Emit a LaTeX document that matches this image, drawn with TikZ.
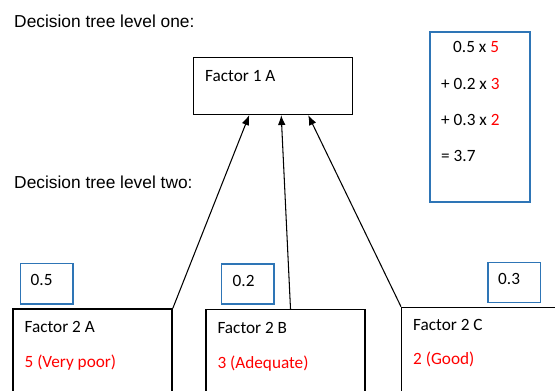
\documentclass[tikz,border=0pt]{standalone}
\usepackage{fontspec}
\setmainfont{Carlito}
\newfontfamily\headfont{Liberation Sans}
\usetikzlibrary{arrows.meta,calc}
\definecolor{boxblue}{RGB}{46,117,182}
\definecolor{valred}{RGB}{255,0,0}
\tikzset{
	box/.style={draw,line width=1.2pt,anchor=north west,minimum width=4.77cm,inner sep=0pt},
	wbox/.style={draw=boxblue,line width=1.5pt,anchor=north west,inner sep=0pt},
	hdr/.style={font=\headfont\fontsize{14.8}{17}\selectfont,anchor=base west,inner sep=0pt},
	txt/.style={font=\fontsize{14.7}{17}\selectfont,anchor=base west,inner sep=0pt},
	val/.style={txt,text=valred},
	arr/.style={line width=0.9pt,-{Latex[length=3mm,width=2.3mm]}}
}
\begin{document}
\begin{tikzpicture}[x=0.03cm,y=-0.03cm]
	\useasboundingbox (0,0) rectangle (555,391);
	\clip (0,0) rectangle (555,391);
	\node[hdr] (lvl1) at (14,28) {Decision tree level one:};
	\node[hdr] (lvl2) at (14,188) {Decision tree level two:};
	\node[box,minimum height=1.7cm] (f1a) at (193,57) {};
	\node[txt] (f1a-name) at ($(f1a.north west)+(12,24)$) {Factor 1 A};
	\node[wbox,minimum width=3cm,minimum height=5.1cm] (sum) at (429,31) {};
	\node[txt] (sum-a) at ($(sum.north west)+(24,22)$) {0.5 x \textcolor{valred}{5}};
	\node[txt] (sum-b) at ($(sum.north west)+(12,58)$) {+ 0.2 x \textcolor{valred}{3}};
	\node[txt] (sum-c) at ($(sum.north west)+(12,94)$) {+ 0.3 x \textcolor{valred}{2}};
	\node[txt] (sum-d) at ($(sum.north west)+(12,130)$) {= 3.7};
	\node[wbox,minimum width=1.58cm,minimum height=1.21cm] (w2a) at (19.5,262.7) {};
	\node[wbox,minimum width=1.58cm,minimum height=1.2cm] (w2b) at (220.5,263.3) {};
	\node[wbox,minimum width=1.58cm,minimum height=1.2cm] (w2c) at (487,261.7) {};
	\node[txt] (w2a-val) at ($(w2a.north west)+(11,23)$) {0.5};
	\node[txt] (w2b-val) at ($(w2b.north west)+(12,23)$) {0.2};
	\node[txt] (w2c-val) at ($(w2c.north west)+(11,23)$) {0.3};
	\node[box,minimum height=3cm] (f2a) at (12.4,308.3) {};
	\node[box,minimum height=3cm] (f2b) at (205.3,309) {};
	\node[box,minimum height=3cm] (f2c) at (401,306.7) {};
	\node[txt] (f2a-name) at ($(f2a.north west)+(12,24)$) {Factor 2 A};
	\node[val] (f2a-val) at ($(f2a.north west)+(12,59)$) {5 (Very poor)};
	\node[txt] (f2b-name) at ($(f2b.north west)+(12,24)$) {Factor 2 B};
	\node[val] (f2b-val) at ($(f2b.north west)+(12,59)$) {3 (Adequate)};
	\node[txt] (f2c-name) at ($(f2c.north west)+(12,24)$) {Factor 2 C};
	\node[val] (f2c-val) at ($(f2c.north west)+(12,58)$) {2 (Good)};
	\draw[arr] (f2a.north east) -- ($(f1a.south)+(-24,0)$);
	\draw[arr] ($(f2b.north)+(5,0)$) -- ($(f1a.south)+(8,0)$);
	\draw[arr] (f2c.north west) -- ($(f1a.south)+(35,0)$);
\end{tikzpicture}
\end{document}
